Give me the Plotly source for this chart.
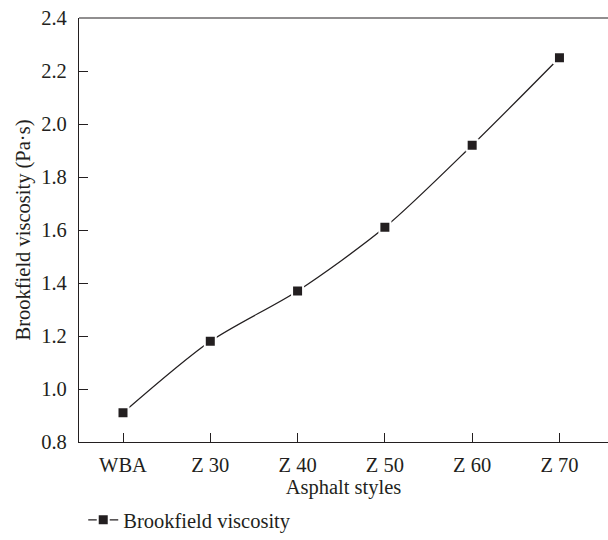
import plotly.graph_objects as go

# Asphalt samples and their Brookfield viscosity
asphalt_styles = ["WBA", "Z 30", "Z 40", "Z 50", "Z 60", "Z 70"]
viscosity = [0.91, 1.18, 1.37, 1.61, 1.92, 2.25]
y_ticks = [0.8, 1.0, 1.2, 1.4, 1.6, 1.8, 2.0, 2.2, 2.4]

ink = "#231f20"
serif = "Liberation Serif"
fs = 20.5

fig = go.Figure()
fig.add_trace(go.Scatter(
    x=list(range(len(asphalt_styles))),
    y=viscosity,
    mode="lines+markers",
    name="Brookfield viscosity",
    line=dict(color=ink, width=1.3, shape="spline", smoothing=0.8),
    marker=dict(symbol="square", size=11, color=ink,
                line=dict(color="white", width=2)),
))

# top frame line of the plot area
fig.add_shape(type="line", xref="paper", yref="paper", x0=0, x1=1, y0=1, y1=1,
              line=dict(color=ink, width=1.2))

fig.update_layout(
    width=608, height=540,
    margin=dict(l=79, r=0, t=18, b=95),
    paper_bgcolor="white", plot_bgcolor="white",
    font=dict(family=serif, size=fs, color=ink),
    showlegend=True,
    legend=dict(orientation="h", x=0.008, y=-0.185, xanchor="left", yanchor="middle",
                font=dict(family=serif, size=fs, color=ink), bgcolor="rgba(0,0,0,0)"),
    xaxis=dict(
        range=[-0.504, 5.556],
        tickmode="array",
        tickvals=list(range(len(asphalt_styles))),
        ticktext=asphalt_styles,
        ticks="inside", ticklen=9, tickwidth=1, tickcolor=ink,
        ticklabelstandoff=4,
        showline=True, linecolor=ink, linewidth=1.2, mirror=False,
        showgrid=False, zeroline=False,
        title=dict(text="Asphalt styles", standoff=3, font=dict(size=fs)),
    ),
    yaxis=dict(
        range=[0.8, 2.4],
        tickmode="array",
        tickvals=y_ticks,
        ticktext=[f"{v:.1f}" for v in y_ticks],
        ticks="inside", ticklen=9, tickwidth=1, tickcolor=ink,
        ticklabelstandoff=7,
        showline=True, linecolor=ink, linewidth=1.2, mirror=False,
        showgrid=False, zeroline=False,
        title=dict(text="Brookfield viscosity (Pa·s)", standoff=4, font=dict(size=fs)),
    ),
)

fig.write_html("out.html")
